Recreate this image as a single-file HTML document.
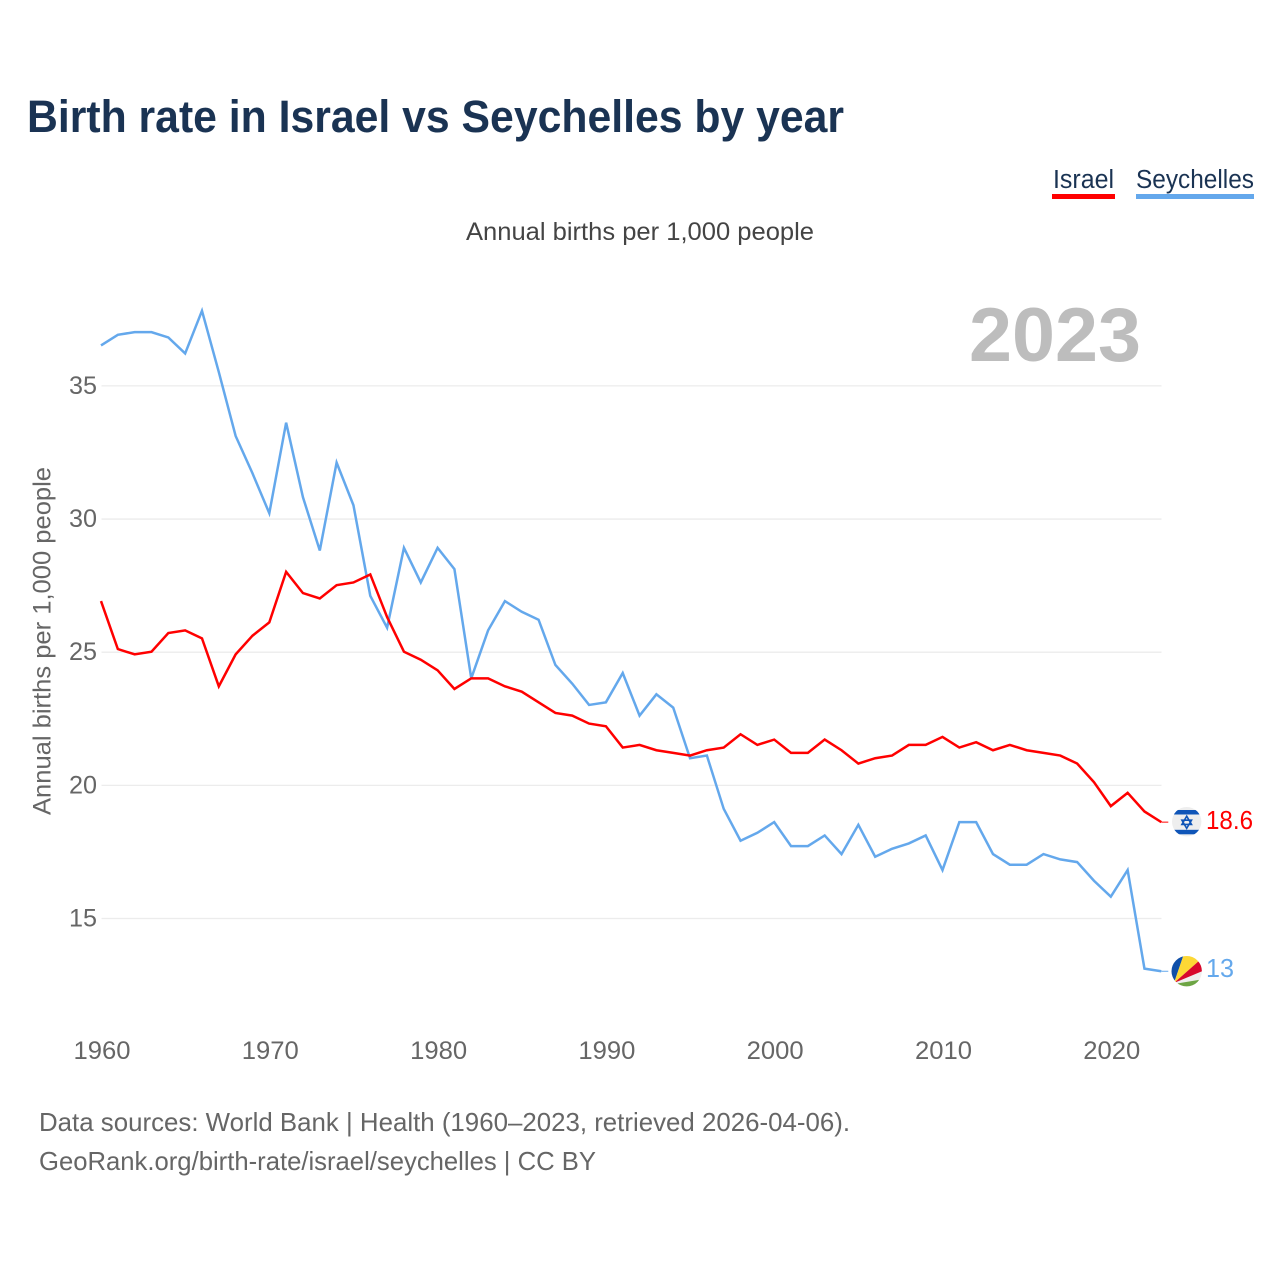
<!DOCTYPE html>
<html lang="en">
<head>
<meta charset="utf-8">
<title>Birth rate in Israel vs Seychelles by year</title>
<style>
html,body{margin:0;padding:0;background:#fff;width:1280px;height:1280px;overflow:hidden}
svg{display:block}
text{font-family:"Liberation Sans",sans-serif}
</style>
</head>
<body>
<svg id="chart" xmlns="http://www.w3.org/2000/svg" width="1280" height="1280" viewBox="0 0 1280 1280">
  <defs>
    <clipPath id="clip-il"><circle cx="1186.7" cy="821.7" r="14.7"/></clipPath>
    <clipPath id="clip-sc"><circle cx="1186.7" cy="971.2" r="15.2"/></clipPath>
  </defs>
  <rect width="1280" height="1280" fill="#fff"/>
  <text x="27" y="132" font-size="45" font-weight="700" fill="#1a3353" textLength="817" lengthAdjust="spacingAndGlyphs">Birth rate in Israel vs Seychelles by year</text>

  <g>
    <text x="1053" y="188" font-size="25.5" fill="#1a3353" textLength="61" lengthAdjust="spacingAndGlyphs">Israel</text>
    <rect x="1052" y="194" width="63" height="5" fill="#ff0000"/>
  </g>
  <g>
    <text x="1136" y="188" font-size="25.5" fill="#1a3353" textLength="118" lengthAdjust="spacingAndGlyphs">Seychelles</text>
    <rect x="1136" y="194" width="118" height="5" fill="#64a8ec"/>
  </g>

  <text x="466" y="240" font-size="25" fill="#444" textLength="348" lengthAdjust="spacingAndGlyphs">Annual births per 1,000 people</text>
  <text transform="translate(50.5,815) rotate(-90)" font-size="25" fill="#666" textLength="348" lengthAdjust="spacingAndGlyphs">Annual births per 1,000 people</text>
  <text x="969" y="361" font-size="76" font-weight="700" fill="#bdbdbd" textLength="172" lengthAdjust="spacingAndGlyphs">2023</text>

  <g id="grid"></g>
  <g id="yticks"></g>
  <g id="xticks"></g>
  <g id="series"></g>

  <g clip-path="url(#clip-il)">
    <rect x="1170" y="805" width="34" height="34" fill="#eeeeee"/>
    <rect x="1170" y="810" width="34" height="4.5" fill="#0f55b8"/>
    <rect x="1170" y="829.8" width="34" height="4.5" fill="#0f55b8"/>
    <path d="M1186.7 816.2l4.8 8.2h-9.6zM1186.7 828.4l4.8-8.2h-9.6z" fill="none" stroke="#0f55b8" stroke-width="1.6"/>
  </g>
  <g clip-path="url(#clip-sc)">
    <rect x="1170" y="955" width="34" height="34" fill="#eeeeee"/>
    <polygon points="1174,983 1184.3,953 1165,953 1165,983" fill="#0f4fa8"/>
    <polygon points="1174,983 1184.3,953 1204,953 1204,956.5" fill="#fdd835"/>
    <polygon points="1174,983 1204,956.5 1204,970.4" fill="#d8082c"/>
    <polygon points="1174,984 1204,979 1204,992 1174,992" fill="#6da544"/>
  </g>

  <text x="39" y="1131" font-size="26" fill="#666" textLength="811" lengthAdjust="spacingAndGlyphs">Data sources: World Bank | Health (1960–2023, retrieved 2026-04-06).</text>
  <text x="39" y="1170" font-size="26" fill="#666" textLength="557" lengthAdjust="spacingAndGlyphs">GeoRank.org/birth-rate/israel/seychelles | CC BY</text>
</svg>
<script>
const startYear = 1960;
const israelValues = [26.9,25.1,24.9,25.0,25.7,25.8,25.5,23.7,24.9,25.6,
  26.1,28.0,27.2,27.0,27.5,27.6,27.9,26.3,25.0,24.7,
  24.3,23.6,24.0,24.0,23.7,23.5,23.1,22.7,22.6,22.3,
  22.2,21.4,21.5,21.3,21.2,21.1,21.3,21.4,21.9,21.5,
  21.7,21.2,21.2,21.7,21.3,20.8,21.0,21.1,21.5,21.5,
  21.8,21.4,21.6,21.3,21.5,21.3,21.2,21.1,20.8,20.1,
  19.2,19.7,19.0,18.6];
const seychellesValues = [36.5,36.9,37.0,37.0,36.8,36.2,37.8,35.5,33.1,31.7,
  30.2,33.6,30.8,28.8,32.1,30.5,27.1,25.9,28.9,27.6,
  28.9,28.1,24.0,25.8,26.9,26.5,26.2,24.5,23.8,23.0,
  23.1,24.2,22.6,23.4,22.9,21.0,21.1,19.1,17.9,18.2,
  18.6,17.7,17.7,18.1,17.4,18.5,17.3,17.6,17.8,18.1,
  16.8,18.6,18.6,17.4,17.0,17.0,17.4,17.2,17.1,16.4,
  15.8,16.8,13.1,13.0];
const yTickValues = [15,20,25,30,35];
const xTickYears = [1960,1970,1980,1990,2000,2010,2020];
const israelEndLabel = "18.6";
const seychellesEndLabel = "13";

const NS = "http://www.w3.org/2000/svg";
function xScale(year){ return 101 + (year - 1960) * 16.83; }
function yScale(v){ return 918 - (v - 15) * 26.63; }
function make(tag, attrs, parent){
  const el = document.createElementNS(NS, tag);
  for (const k in attrs) el.setAttribute(k, attrs[k]);
  parent.appendChild(el);
  return el;
}
const grid = document.getElementById("grid");
const yticks = document.getElementById("yticks");
const xticks = document.getElementById("xticks");
const series = document.getElementById("series");

yTickValues.forEach(function(v){
  const line = make("line", {x1:101.5, x2:1161.5, y1:yScale(v)+0.5, y2:yScale(v)+0.5, stroke:"#ececec", "stroke-width":1.3}, grid);
  
  
  const t = make("text", {x:69, y:yScale(v)+8.5, "font-size":25, fill:"#666", textLength:28, lengthAdjust:"spacingAndGlyphs"}, yticks);
  t.textContent = String(v);
  
  
});
xTickYears.forEach(function(y){
  const t = make("text", {x:xScale(y)-27.5, y:1059, "font-size":25, fill:"#666", textLength:57, lengthAdjust:"spacingAndGlyphs"}, xticks);
  t.textContent = String(y);
  
  
});
function pointsOf(values){
  return values.map(function(v,i){ return xScale(startYear+i).toFixed(2)+","+yScale(v).toFixed(2); }).join(" ");
}
function connectorAndLabel(values, color, text, width, dy, group){
  const last = values[values.length-1];
  const lx = xScale(startYear+values.length-1);
  const c = make("line", {x1:lx, x2:lx+7, y1:yScale(last), y2:yScale(last), stroke:color, "stroke-width":1}, group);
  
  
  const t = make("text", {x:1206, y:yScale(last)+dy, "font-size":26, fill:color, textLength:width, lengthAdjust:"spacingAndGlyphs"}, group);
  t.textContent = text;
  
  
}
const seyLine = make("polyline", {points:pointsOf(seychellesValues), fill:"none", stroke:"#64a8ec", "stroke-width":2.5, "stroke-linejoin":"miter"}, series);


const isrLine = make("polyline", {points:pointsOf(israelValues), fill:"none", stroke:"#ff0000", "stroke-width":2.5, "stroke-linejoin":"miter"}, series);


connectorAndLabel(israelValues, "#ff0000", israelEndLabel, 47, 6.8, series);
connectorAndLabel(seychellesValues, "#64a8ec", seychellesEndLabel, 28, 5.7, series);
</script>
</body>
</html>
